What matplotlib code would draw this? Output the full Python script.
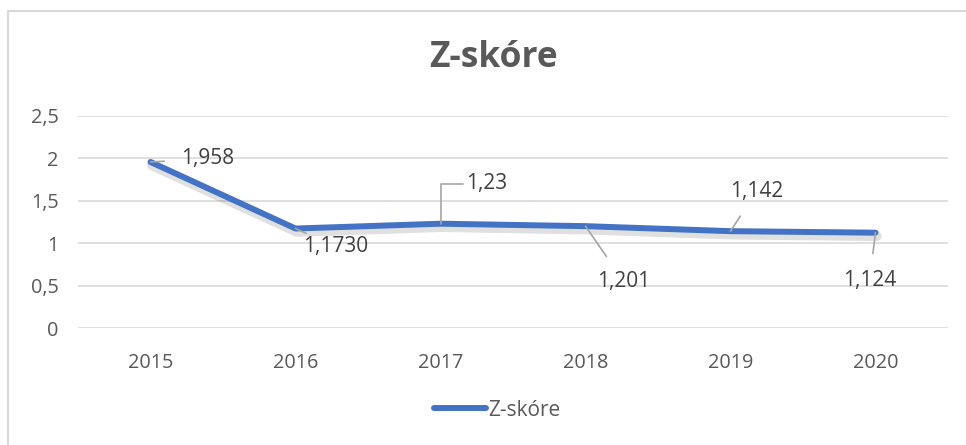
import matplotlib
matplotlib.use("Agg")
import matplotlib.pyplot as plt
import matplotlib.patheffects as pe
from matplotlib.lines import Line2D

years = ["2015", "2016", "2017", "2018", "2019", "2020"]
zscore = [1.958, 1.173, 1.23, 1.201, 1.142, 1.124]
point_labels = ["1,958", "1,1730", "1,23", "1,201", "1,142", "1,124"]
yticks = [0, 0.5, 1, 1.5, 2, 2.5]
ytick_labels = ["0", "0,5", "1", "1,5", "2", "2,5"]

# label offsets in pixels (text centre relative to point)
label_offsets = [(57, 3), (40, -18), (46, 40), (38, -55), (26, 40), (-6, -48)]

W, H = 966, 445
plt.rcParams['font.family'] = ['Open Sans', 'DejaVu Sans']
fig = plt.figure(figsize=(W / 100, H / 100), dpi=100)
ax = fig.add_axes([78 / W, 1 - 328 / H, 870 / W, 212 / H])

x = list(range(len(years)))
ax.plot(x, zscore, color="#4472C4", lw=4.3, solid_capstyle="round",
        solid_joinstyle="round", zorder=3,
        path_effects=[pe.SimpleLineShadow(offset=(1, -2.5), shadow_color="#000000",
                                          alpha=0.12, linewidth=7),
                      pe.Normal()])

ax.set_xlim(-0.5, len(years) - 0.5)
ax.set_ylim(0, 2.5)
ax.set_yticks(yticks)
ax.set_yticklabels(ytick_labels)
ax.set_xticks(x)
ax.set_xticklabels(years)
ax.tick_params(length=0, labelsize=14.3, colors="#595959")
ax.tick_params(axis="y", pad=14)
ax.tick_params(axis="x", pad=18)
ax.grid(axis="y", color="#D9D9D9", lw=1.2)
ax.set_axisbelow(True)
for s in ax.spines.values():
    s.set_visible(False)

for xi, yi, lab, (dx, dy) in zip(x, zscore, point_labels, label_offsets):
    if lab == "1,23":
        ax.annotate(lab, (xi, yi), xytext=(dx, dy), textcoords="offset pixels",
                    ha="center", va="center", fontsize=15, color="#404040",
                    arrowprops=dict(arrowstyle="-", color="#A6A6A6", lw=1.2,
                                    connectionstyle="angle,angleA=0,angleB=90,rad=0",
                                    shrinkA=0, shrinkB=0, relpos=(0, 0.5)))
    else:
        ax.annotate(lab, (xi, yi), xytext=(dx, dy), textcoords="offset pixels",
                    ha="center", va="center", fontsize=15, color="#404040",
                    arrowprops=dict(arrowstyle="-", color="#A6A6A6", lw=1.2,
                                    shrinkA=10, shrinkB=0))

fig.text(493 / W, 1 - 58 / H, "Z-skóre", ha="center", va="center",
         fontsize=25.5, fontweight="bold", color="#595959")

handle = Line2D([], [], color="#4472C4", lw=4.3, solid_capstyle="round")
fig.legend([handle], ["Z-skóre"], loc="center", bbox_to_anchor=(497 / W, 1 - 410 / H),
           frameon=False, fontsize=15, labelcolor="#595959",
           handlelength=2.5, handletextpad=0.1)

# chart border
fig.add_artist(Line2D([8 / W, 8 / W], [0, 1 - 11 / H], color="#D9D9D9", lw=1.5,
                      transform=fig.transFigure))
fig.add_artist(Line2D([8 / W, 1], [1 - 11 / H, 1 - 11 / H], color="#D9D9D9", lw=1.5,
                      transform=fig.transFigure))

fig.savefig("out.png", dpi=100, facecolor="white")
